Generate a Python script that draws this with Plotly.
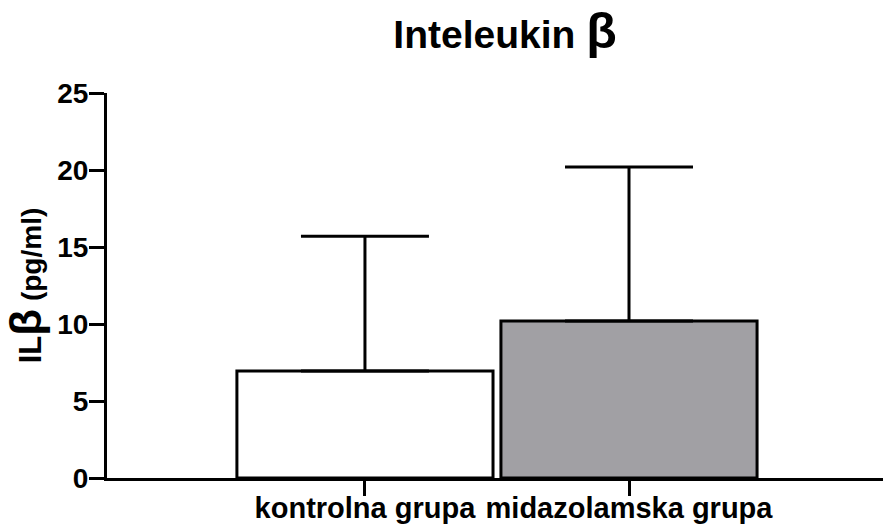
import plotly.graph_objects as go

categories = ["kontrolna grupa", "midazolamska grupa"]
means = [6.95, 10.2]
errors_up = [8.75, 10.0]
bar_colors = ["#ffffff", "#a1a0a4"]
y_ticks = [0, 5, 10, 15, 20, 25]

FONT = "Liberation Sans, Arial, sans-serif"

fig = go.Figure()
fig.add_trace(go.Bar(
    x=[0, 1],
    y=means,
    width=0.97,
    marker=dict(color=bar_colors, line=dict(color="black", width=3)),
    error_y=dict(type="data", array=errors_up, arrayminus=[0, 0], symmetric=False,
                 color="black", thickness=3, width=64),
    showlegend=False,
))

fig.update_layout(
    width=883, height=530,
    margin=dict(l=107, r=0, t=93, b=52),
    paper_bgcolor="white", plot_bgcolor="white",
    font=dict(family=FONT, color="black", size=20),
    title=dict(text="<b>Inteleukin </b><span style='font-size:50px'><b>β</b></span>",
               x=0.572, xanchor="center", y=0.935, yanchor="middle",
               font=dict(family=FONT, size=39, color="black")),
)
fig.update_xaxes(
    range=[-0.977, 1.962], automargin=False,
    tickmode="array", tickvals=[0, 1], ticktext=[f"<b>{c}</b>" for c in categories],
    showline=True, linewidth=3, linecolor="black",
    ticks="outside", ticklen=15, tickwidth=3, tickcolor="black",
    showgrid=False, zeroline=False, ticklabelstandoff=-13,
    tickfont=dict(family=FONT, size=29, color="black"),
)
fig.update_yaxes(
    range=[0, 25], automargin=False,
    tickmode="array", tickvals=y_ticks, ticktext=[f"<b>{v}</b>" for v in y_ticks],
    showline=True, linewidth=3, linecolor="black",
    ticks="outside", ticklen=15, tickwidth=3, tickcolor="black",
    showgrid=False, zeroline=False, ticklabelstandoff=-5,
    tickfont=dict(family=FONT, size=28, color="black"),
    title=dict(text="<span style='font-size:31px'><b>IL</b></span>"
                    "<span style='font-size:44px'><b>β</b></span>"
                    "<b> (pg/ml)</b>",
               font=dict(family=FONT, size=28, color="black"), standoff=8),
)

fig.write_html("out.html", config={"displayModeBar": False},
               post_script="document.body.style.margin='0';")
